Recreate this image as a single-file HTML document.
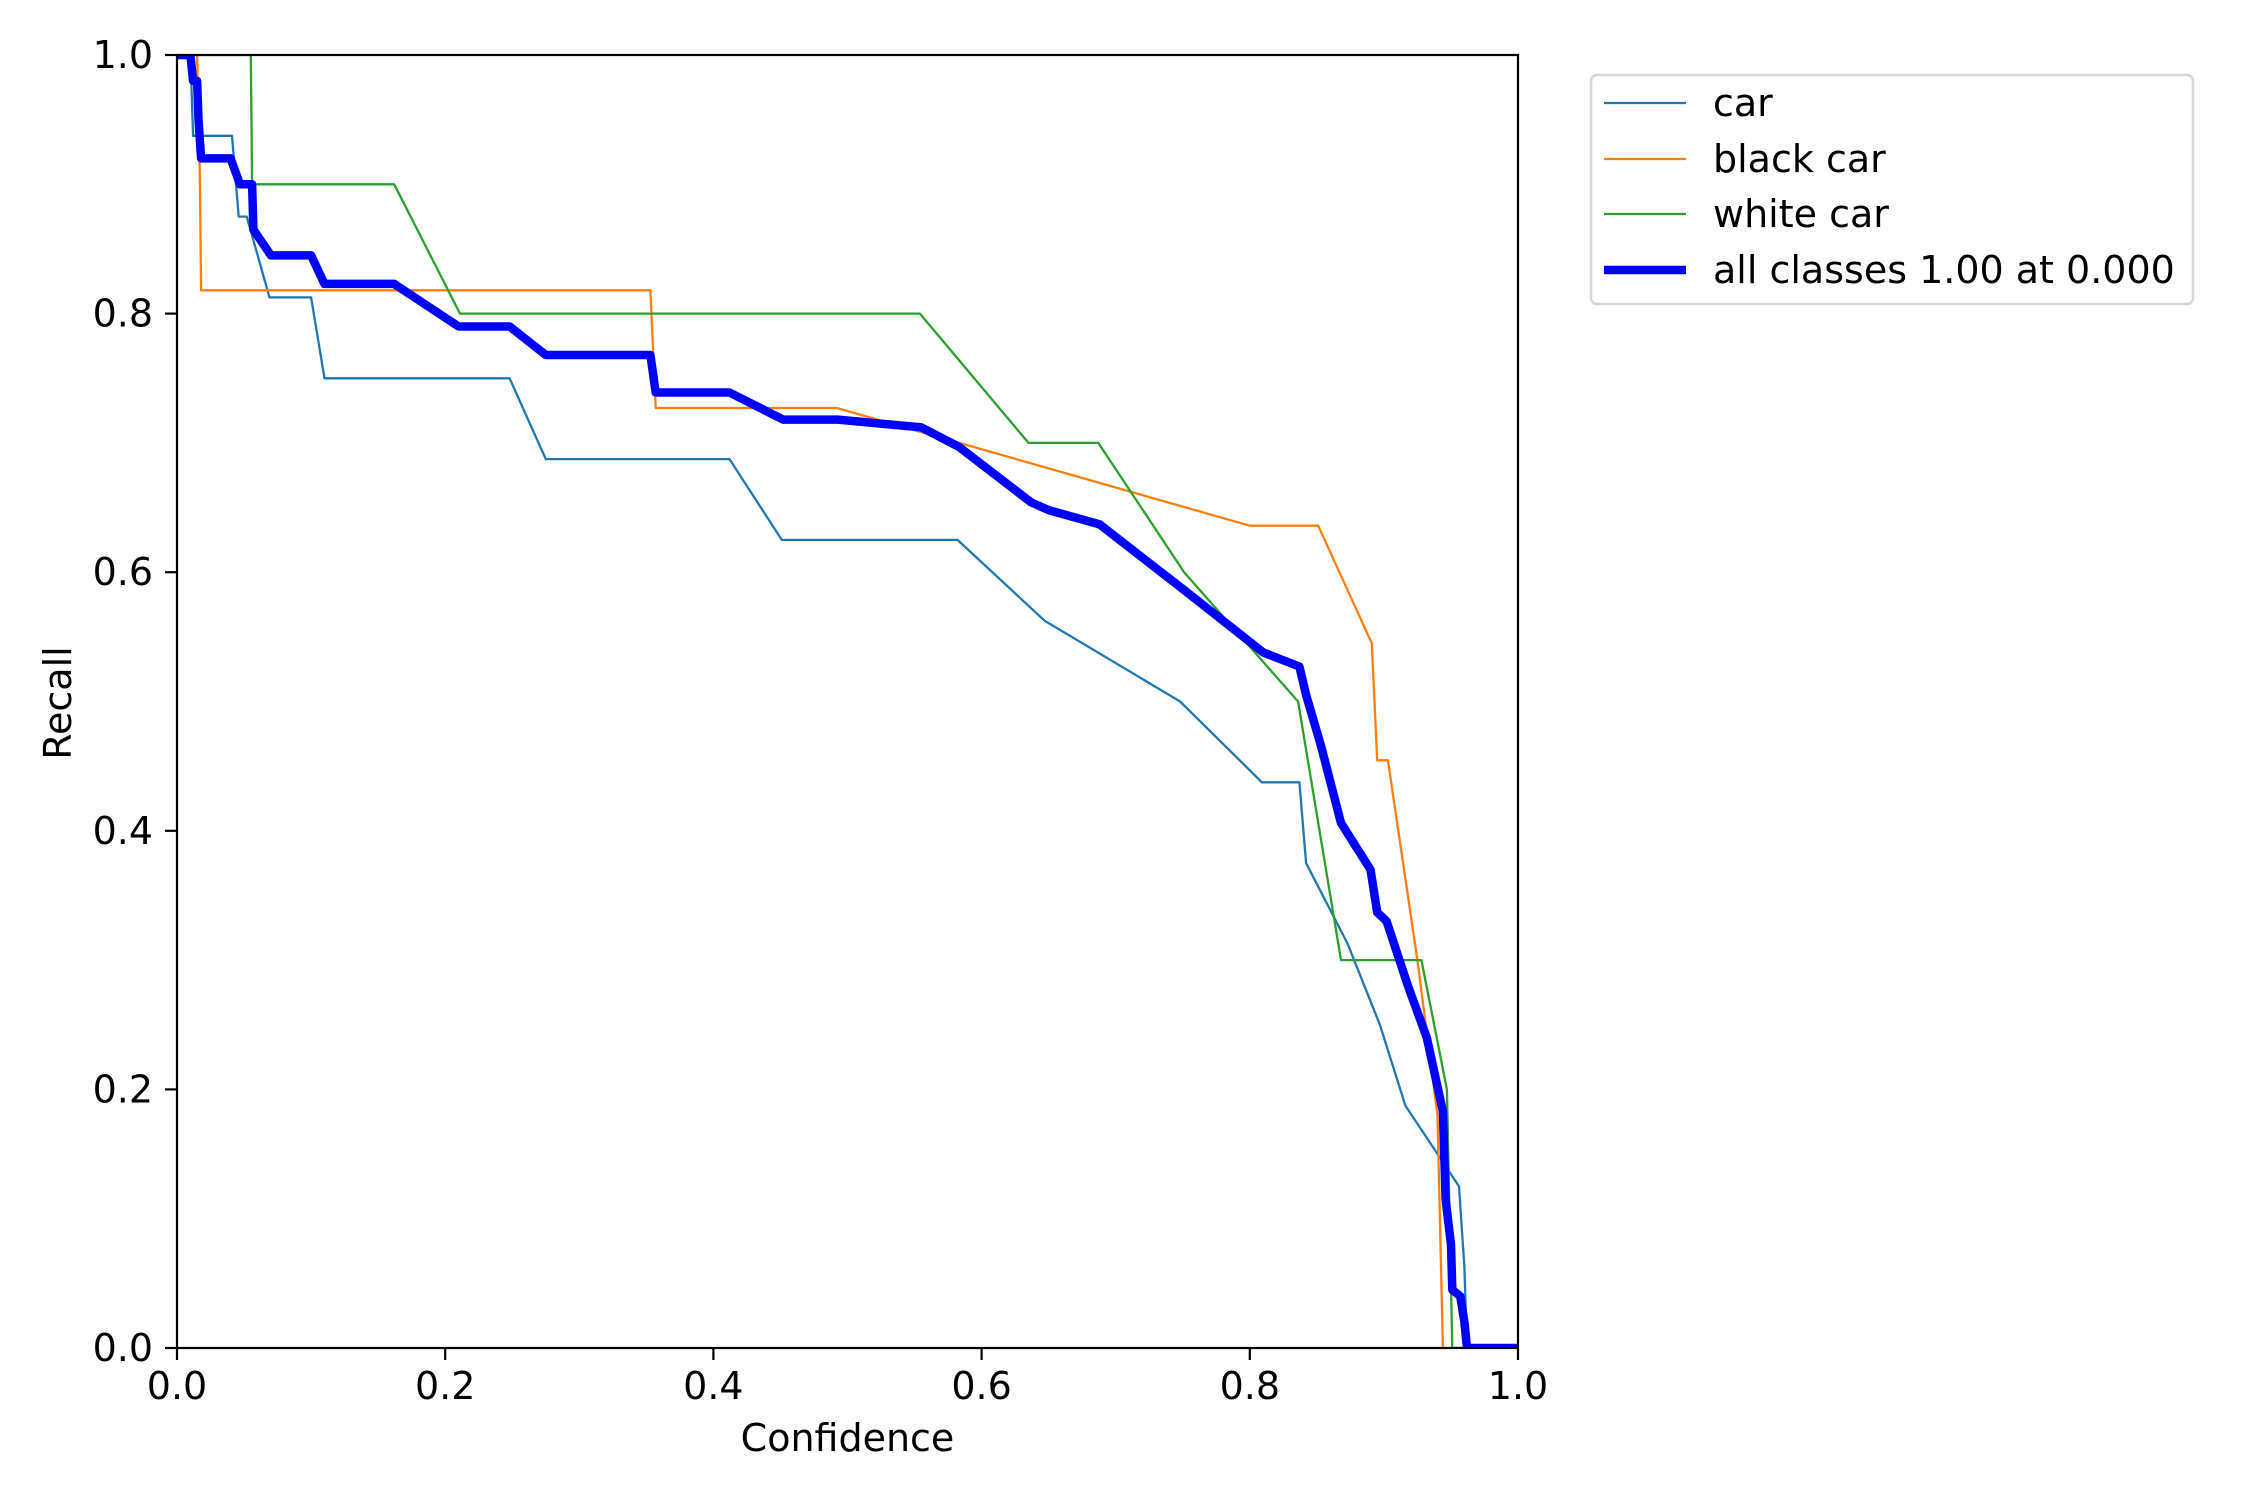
<!DOCTYPE html>
<html><head><meta charset="utf-8"><style>
html,body{margin:0;padding:0;background:#fff}
svg{display:block}
text{font-family:"DejaVu Sans","Liberation Sans",sans-serif;fill:#000}
</style></head><body>
<svg id="chart" width="2250" height="1500" viewBox="0 0 2250 1500" xmlns="http://www.w3.org/2000/svg">
<rect width="2250" height="1500" fill="#fff"/>
<g id="plot"></g>
<g id="axes"></g>
<g id="legend"></g>
</svg>
<script>
const xTicks=[0,0.2,0.4,0.6,0.8,1.0];
const yTicks=[0,0.2,0.4,0.6,0.8,1.0];
const tickLabels=["0.0","0.2","0.4","0.6","0.8","1.0"];
const seriesNames=["car","black car","white car","all classes 1.00 at 0.000"];
const carX=[0,0.01,0.012,0.041,0.046,0.052,0.069,0.1,0.11,0.248,0.275,0.412,0.451,0.582,0.647,0.748,0.809,0.837,0.842,0.873,0.897,0.916,0.956,0.96,0.962,1.0];
const carY=[1,1,0.9375,0.9375,0.875,0.875,0.8125,0.8125,0.75,0.75,0.6875,0.6875,0.625,0.625,0.5625,0.5,0.4375,0.4375,0.375,0.3125,0.25,0.1875,0.125,0.0625,0,0];
const blackX=[0,0.015,0.017,0.018,0.353,0.357,0.492,0.8,0.851,0.891,0.895,0.903,0.925,0.94,0.944,1.0];
const blackY=[1,1,0.909,0.818,0.818,0.727,0.727,0.636,0.636,0.545,0.4545,0.4545,0.3,0.18,0,0];
const whiteX=[0,0.055,0.056,0.162,0.211,0.554,0.635,0.687,0.751,0.836,0.868,0.928,0.947,0.951,1.0];
const whiteY=[1,1,0.9,0.9,0.8,0.8,0.7,0.7,0.6,0.5,0.3,0.3,0.2,0,0];
const allX=[0,0.01,0.012,0.015,0.016,0.018,0.04,0.047,0.056,0.057,0.07,0.1,0.11,0.162,0.21,0.248,0.275,0.353,0.357,0.412,0.452,0.493,0.555,0.583,0.637,0.65,0.688,0.75,0.81,0.837,0.842,0.853,0.868,0.89,0.895,0.902,0.918,0.932,0.944,0.946,0.95,0.951,0.957,0.96,0.962,1.0];
const allY=[1,1,0.98,0.98,0.95,0.92,0.92,0.9,0.9,0.865,0.845,0.845,0.823,0.823,0.79,0.79,0.768,0.768,0.739,0.739,0.718,0.718,0.712,0.697,0.654,0.648,0.637,0.587,0.538,0.527,0.505,0.466,0.406,0.37,0.337,0.33,0.28,0.24,0.183,0.115,0.08,0.045,0.04,0.02,0,0];

const L=177,R=1518,T=55,B=1348;
const sx=v=>L+v*(R-L), sy=v=>B-v*(B-T);
const NS="http://www.w3.org/2000/svg";
function mk(tag,attrs,parent){const e=document.createElementNS(NS,tag);for(const k in attrs)e.setAttribute(k,attrs[k]);parent.appendChild(e);return e;}
const plot=document.getElementById('plot'),axes=document.getElementById('axes'),leg=document.getElementById('legend');
const defs=mk('defs',{},plot);const cp=mk('clipPath',{id:'clip'},defs);mk('rect',{x:L,y:T,width:R-L,height:B-T},cp);
const series=[[carX,carY,'#1f77b4',2.3,'car-line'],[blackX,blackY,'#ff7f0e',2.3,'black-car-line'],[whiteX,whiteY,'#2ca02c',2.3,'white-car-line'],[allX,allY,'#0000ff',8.5,'all-classes-line']];
series.forEach(s=>{
  const pts=s[0].map((x,i)=>sx(x).toFixed(1)+','+sy(s[1][i]).toFixed(1)).join(' ');
  const p=mk('polyline',{points:pts,fill:'none',stroke:s[2],'stroke-width':s[3],'stroke-linejoin':'round','clip-path':'url(#clip)'},plot);
  
  
});
const frame=mk('rect',{x:L,y:T,width:R-L,height:B-T,fill:'none',stroke:'#000','stroke-width':2.2},axes);


xTicks.forEach((v,i)=>{
  const t=mk('line',{x1:sx(v),x2:sx(v),y1:B,y2:B+12,stroke:'#000','stroke-width':2.2},axes);
  
  
  const tx=mk('text',{x:sx(v),y:B+51,'text-anchor':'middle','font-size':38},axes);tx.textContent=tickLabels[i];
  
  
});
yTicks.forEach((v,i)=>{
  const t=mk('line',{x1:L-12,x2:L,y1:sy(v),y2:sy(v),stroke:'#000','stroke-width':2.2},axes);
  
  
  const tx=mk('text',{x:L-24,y:sy(v)+13,'text-anchor':'end','font-size':38},axes);tx.textContent=tickLabels[i];
  
  
});
const xl=mk('text',{x:(L+R)/2,y:1451,'text-anchor':'middle','font-size':38},axes);xl.textContent='Confidence';


const yl=mk('text',{x:0,y:0,'text-anchor':'middle','font-size':38,transform:'translate(71,703) rotate(-90)'},axes);yl.textContent='Recall';


const box=mk('rect',{x:1591,y:75,width:602,height:229,rx:6,fill:'#fff',stroke:'#d6d6d6','stroke-width':2.5},leg);


const legY=[103,159,214,270];
series.forEach((s,i)=>{
  const g=mk('g',{},leg);
  
  
  mk('line',{x1:1604,x2:1686,y1:legY[i],y2:legY[i],stroke:s[2],'stroke-width':s[3]},g);
  const t=mk('text',{x:1713,y:legY[i]+13,'font-size':38},g);t.textContent=seriesNames[i];
});
</script>
</body></html>
